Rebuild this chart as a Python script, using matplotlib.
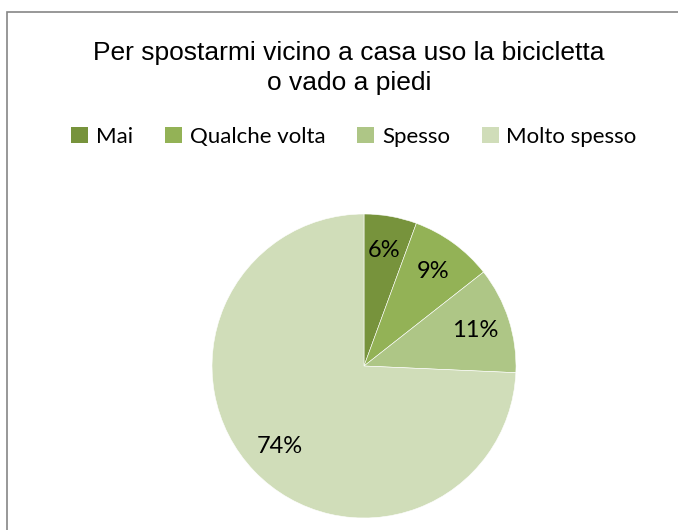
import matplotlib.pyplot as plt
from matplotlib.patches import Rectangle, Patch

categories = ["Mai", "Qualche volta", "Spesso", "Molto spesso"]
values = [5.6, 8.8, 11.3, 74.3]
colors = ["#77933C", "#93B256", "#AEC686", "#D0DDB9"]
title = "Per spostarmi vicino a casa uso la bicicletta\no vado a piedi"

W, H = 678, 530
fig = plt.figure(figsize=(W / 100, H / 100), dpi=100)

# chart frame
fig.patches.append(Rectangle((7 / W, -0.1), 1.1, 1 - 12 / H + 0.1,
                             transform=fig.transFigure, fill=False,
                             edgecolor="#868686", linewidth=1.2))

fig.text(349 / W, 1 - 68 / H, title, ha="center", va="center",
         fontsize=19, family="Liberation Sans", linespacing=1.3)

# pie axes: centre (364, 366), radius 152 px
cx, cy, r = 364, 366, 152
ax = fig.add_axes([(cx - r) / W, 1 - (cy + r) / H, 2 * r / W, 2 * r / H])
wedges, texts, autotexts = ax.pie(
    values, colors=colors, startangle=90, counterclock=False,
    autopct="%.0f%%", pctdistance=0.77, radius=1,
    wedgeprops=dict(edgecolor="white", linewidth=0.4),
    textprops=dict(fontsize=17, family="Lato", color="black"))
ax.set_xlim(-1, 1)
ax.set_ylim(-1, 1)
ax.set_aspect("equal")
ax.axis("off")

handles = [Patch(facecolor=c, edgecolor="none") for c in colors]
fig.legend(handles, categories, loc="center", ncol=4,
           bbox_to_anchor=(354 / W, 1 - 137 / H), frameon=False,
           prop=dict(family="Lato", size=16), handlelength=0.75,
           handleheight=0.75, handletextpad=0.35, columnspacing=1.45)

fig.savefig("out.png", dpi=100)
